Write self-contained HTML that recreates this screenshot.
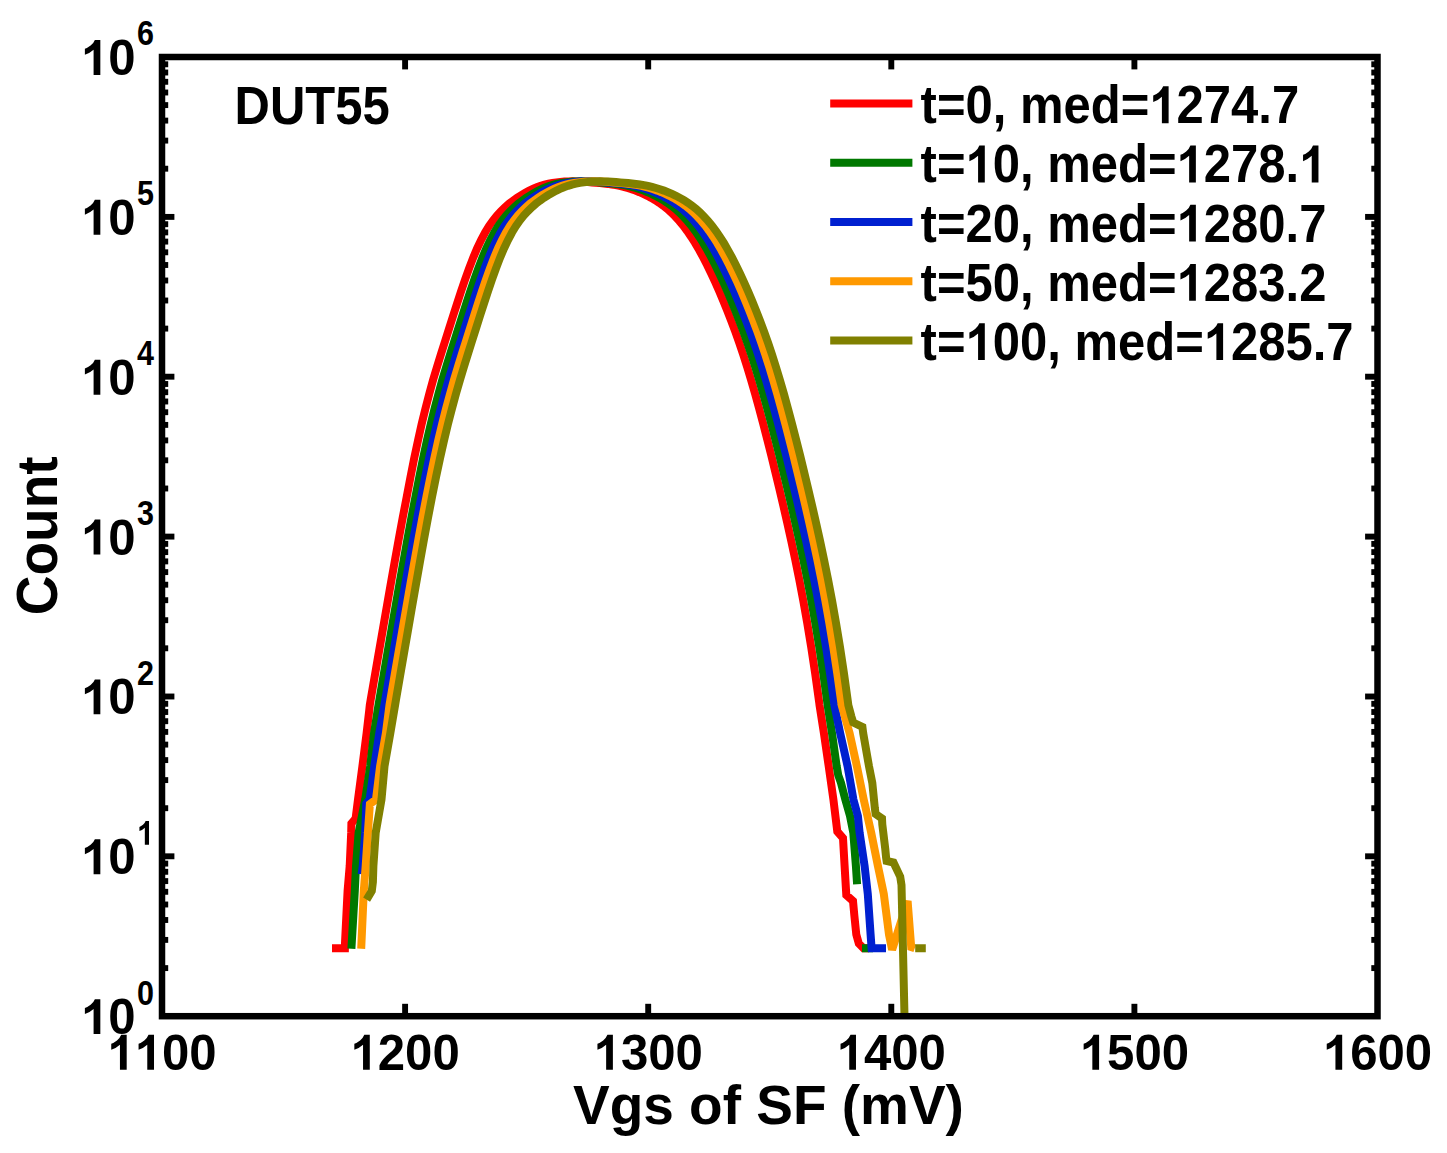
<!DOCTYPE html>
<html><head><meta charset="utf-8"><title>DUT55 Vgs histogram</title>
<style>html,body{margin:0;padding:0;background:#fff;}svg{display:block;}body{font-family:"Liberation Sans",sans-serif;}</style></head>
<body>
<svg width="1447" height="1153" viewBox="0 0 1447 1153">
<rect x="0" y="0" width="1447" height="1153" fill="#ffffff"/>
<clipPath id="ax"><rect x="162.0" y="57.0" width="1215.5" height="959.2"/></clipPath>
<g clip-path="url(#ax)" fill="none" stroke-linejoin="miter" stroke-miterlimit="3" stroke-linecap="butt">
<path d="M332.0,948.3 L344.9,948.3 L345.0,943.0 L347.6,890.7 L349.7,865.9 L351.2,832.7 L351.4,823.5 L355.6,818.5 L358.0,799.5 L362.4,766.3 L366.6,733.2 L369.2,710.7 L369.8,705.0 L370.7,699.6 L374.7,676.4 L378.7,653.3 L382.7,630.2 L386.7,607.1 L390.7,584.2 L394.7,561.6 L398.7,539.4 L402.7,517.8 L406.7,497.0 L410.5,477.1 L414.2,458.3 L418.0,440.5 L421.7,423.9 L425.5,408.4 L429.3,393.8 L433.1,379.9 L437.1,366.7 L441.1,353.8 L445.1,341.1 L449.1,328.5 L453.1,315.9 L457.1,303.5 L461.1,291.3 L465.1,279.5 L469.1,268.3 L473.1,257.9 L477.1,248.5 L481.1,240.0 L485.1,232.5 L489.1,226.0 L493.1,220.3 L497.1,215.3 L501.1,211.0 L505.1,207.2 L509.1,203.7 L513.1,200.6 L517.0,197.8 L520.9,195.3 L524.9,193.0 L528.8,190.8 L532.8,188.9 L536.7,187.2 L540.7,185.8 L544.6,184.6 L548.6,183.7 L552.5,182.9 L556.5,182.4 L560.4,181.9 L564.4,181.6 L568.3,181.4 L572.3,181.3 L576.2,181.4 L580.2,181.6 L584.1,181.8 L588.0,182.1 L592.0,182.4 L595.9,182.7 L599.9,183.1 L603.8,183.5 L607.8,183.9 L611.7,184.5 L615.7,185.1 L619.6,185.9 L623.6,186.9 L627.5,188.0 L631.5,189.2 L635.4,190.6 L639.4,192.2 L643.3,193.9 L647.3,195.8 L651.2,197.9 L655.2,200.2 L659.2,202.8 L663.2,205.7 L667.2,208.9 L671.2,212.5 L675.2,216.5 L679.2,220.9 L683.2,225.7 L687.2,231.1 L691.2,236.9 L695.2,243.2 L699.2,250.1 L703.2,257.4 L707.2,265.2 L711.2,273.5 L715.2,282.1 L719.2,291.2 L723.2,300.6 L727.2,310.5 L731.2,320.7 L735.2,331.4 L739.2,342.7 L743.2,354.6 L747.2,367.1 L751.2,380.3 L755.2,394.2 L759.2,408.7 L763.2,423.7 L767.2,439.2 L771.2,455.1 L775.2,471.5 L779.2,488.1 L783.2,505.1 L787.2,522.6 L791.2,540.7 L795.2,559.5 L799.2,579.3 L803.2,600.3 L807.2,622.9 L811.2,647.2 L815.2,673.7 L819.2,702.4 L819.5,705.0 L823.9,733.2 L828.7,766.3 L833.4,799.5 L837.3,831.5 L843.0,838.0 L844.6,865.9 L846.3,895.0 L853.0,901.0 L854.4,916.0 L856.3,934.6 L858.8,943.5 L863.5,948.3 L869.0,948.3" stroke="#ff0000" stroke-width="8.0"/>
<path d="M351.4,948.8 L354.8,890.7 L356.0,865.9 L358.6,832.7 L365.2,799.5 L370.2,766.3 L374.0,733.2 L378.5,705.0 L379.4,699.6 L383.4,676.4 L387.4,653.3 L391.4,630.2 L395.4,607.1 L399.4,584.2 L403.4,561.6 L407.4,539.4 L411.4,517.8 L415.4,497.0 L419.3,477.1 L423.1,458.3 L426.9,440.5 L430.8,423.9 L434.6,408.4 L438.5,393.8 L442.3,379.9 L446.3,366.7 L450.3,353.8 L454.3,341.1 L458.3,328.5 L462.3,315.9 L466.3,303.5 L470.3,291.3 L474.3,279.5 L478.3,268.3 L482.3,257.9 L486.3,248.5 L490.3,240.0 L494.3,232.5 L498.3,226.0 L502.3,220.3 L506.3,215.3 L510.3,211.0 L514.3,207.2 L518.3,203.7 L522.3,200.6 L526.2,197.8 L530.1,195.3 L534.1,193.0 L538.0,190.8 L541.9,188.9 L545.8,187.2 L549.7,185.8 L553.6,184.6 L557.5,183.7 L561.5,182.9 L565.4,182.4 L569.3,181.9 L573.2,181.6 L577.1,181.4 L581.0,181.3 L584.9,181.4 L588.9,181.6 L592.8,181.8 L596.7,182.1 L600.6,182.4 L604.5,182.7 L608.4,183.1 L612.3,183.5 L616.2,183.9 L620.2,184.5 L624.1,185.1 L628.0,185.9 L631.9,186.9 L635.8,188.0 L639.7,189.2 L643.6,190.6 L647.6,192.2 L651.5,193.9 L655.4,195.8 L659.3,197.9 L663.3,200.2 L667.3,202.8 L671.3,205.7 L675.3,208.9 L679.3,212.5 L683.3,216.5 L687.3,220.9 L691.3,225.7 L695.3,231.1 L699.3,236.9 L703.3,243.2 L707.3,250.1 L711.3,257.4 L715.3,265.2 L719.3,273.5 L723.3,282.1 L727.3,291.2 L731.3,300.6 L735.3,310.5 L739.3,320.7 L743.3,331.4 L747.3,342.7 L751.3,354.6 L755.3,367.1 L759.3,380.3 L763.3,394.2 L767.3,408.7 L771.3,423.7 L775.3,439.2 L779.3,455.1 L783.3,471.5 L787.3,488.1 L791.3,505.1 L795.3,522.6 L799.3,540.7 L803.3,559.5 L807.3,579.3 L811.3,600.3 L815.3,622.9 L819.3,647.2 L823.3,673.7 L827.3,702.4 L827.6,705.0 L832.0,733.2 L836.7,766.3 L838.2,775.0 L841.0,782.9 L845.3,799.5 L850.0,816.0 L853.3,832.7 L855.9,865.9 L857.1,884.2" stroke="#007800" stroke-width="8.0"/>
<path d="M862.0,948.3 L873.0,948.3" stroke="#007800" stroke-width="8.0"/>
<path d="M361.6,874.2 L362.8,865.9 L365.2,832.7 L366.3,803.5 L369.6,799.5 L374.3,766.3 L379.3,733.2 L384.4,705.0 L385.3,699.6 L389.3,676.4 L393.3,653.3 L397.3,630.2 L401.3,607.1 L405.3,584.2 L409.3,561.6 L413.3,539.4 L417.3,517.8 L421.3,497.0 L425.2,477.1 L429.1,458.3 L433.0,440.5 L436.9,423.9 L440.8,408.4 L444.7,393.8 L448.6,379.9 L452.6,366.7 L456.6,353.8 L460.6,341.1 L464.6,328.5 L468.6,315.9 L472.6,303.5 L476.6,291.3 L480.6,279.5 L484.6,268.3 L488.6,257.9 L492.6,248.5 L496.6,240.0 L500.6,232.5 L504.6,226.0 L508.6,220.3 L512.6,215.3 L516.6,211.0 L520.6,207.2 L524.6,203.7 L528.6,200.6 L532.5,197.8 L536.5,195.3 L540.4,193.0 L544.3,190.8 L548.2,188.9 L552.2,187.2 L556.1,185.8 L560.0,184.6 L564.0,183.7 L567.9,182.9 L571.8,182.4 L575.7,181.9 L579.7,181.6 L583.6,181.4 L587.5,181.3 L591.5,181.4 L595.4,181.6 L599.3,181.8 L603.2,182.1 L607.2,182.4 L611.1,182.7 L615.0,183.1 L619.0,183.5 L622.9,183.9 L626.8,184.5 L630.7,185.1 L634.7,185.9 L638.6,186.9 L642.5,188.0 L646.5,189.2 L650.4,190.6 L654.3,192.2 L658.2,193.9 L662.2,195.8 L666.1,197.9 L670.1,200.2 L674.1,202.8 L678.1,205.7 L682.1,208.9 L686.1,212.5 L690.1,216.5 L694.1,220.9 L698.1,225.7 L702.1,231.1 L706.1,236.9 L710.1,243.2 L714.1,250.1 L718.1,257.4 L722.1,265.2 L726.1,273.5 L730.1,282.1 L734.1,291.2 L738.1,300.6 L742.1,310.5 L746.1,320.7 L750.1,331.4 L754.1,342.7 L758.1,354.6 L762.1,367.1 L766.1,380.3 L770.1,394.2 L774.1,408.7 L778.1,423.7 L782.1,439.2 L786.1,455.1 L790.1,471.5 L794.1,488.1 L798.1,505.1 L802.1,522.6 L806.1,540.7 L810.1,559.5 L814.1,579.3 L818.1,600.3 L822.1,622.9 L826.1,647.2 L830.1,673.7 L834.1,702.4 L834.4,705.0 L840.2,733.2 L847.6,766.3 L853.4,799.5 L857.9,816.1 L859.6,832.7 L864.6,865.9 L867.8,894.0 L870.6,934.6 L871.6,948.3 L886.0,948.3" stroke="#0020d0" stroke-width="8.0"/>
<path d="M361.2,948.8 L363.8,890.7 L365.7,865.9 L367.9,832.7 L369.9,804.0 L376.0,799.5 L380.1,766.3 L385.9,733.2 L389.5,705.0 L390.4,699.6 L394.4,676.4 L398.4,653.3 L402.4,630.2 L406.4,607.1 L410.4,584.2 L414.4,561.6 L418.4,539.4 L422.4,517.8 L426.4,497.0 L430.4,477.1 L434.3,458.3 L438.2,440.5 L442.2,423.9 L446.1,408.4 L450.1,393.8 L454.0,379.9 L458.0,366.7 L462.0,353.8 L466.0,341.1 L470.0,328.5 L474.0,315.9 L478.0,303.5 L482.0,291.3 L486.0,279.5 L490.0,268.3 L494.0,257.9 L498.0,248.5 L502.0,240.0 L506.0,232.5 L510.0,226.0 L514.0,220.3 L518.0,215.3 L522.0,211.0 L526.0,207.2 L530.0,203.7 L534.0,200.6 L538.0,197.8 L542.0,195.3 L546.0,193.0 L550.0,190.8 L553.9,188.9 L557.9,187.2 L561.9,185.8 L565.9,184.6 L569.8,183.7 L573.8,182.9 L577.8,182.4 L581.8,181.9 L585.8,181.6 L589.7,181.4 L593.7,181.3 L597.7,181.4 L601.7,181.6 L605.7,181.8 L609.6,182.1 L613.6,182.4 L617.6,182.7 L621.6,183.1 L625.6,183.5 L629.5,183.9 L633.5,184.5 L637.5,185.1 L641.5,185.9 L645.4,186.9 L649.4,188.0 L653.4,189.2 L657.4,190.6 L661.4,192.2 L665.3,193.9 L669.3,195.8 L673.3,197.9 L677.3,200.2 L681.3,202.8 L685.3,205.7 L689.3,208.9 L693.3,212.5 L697.3,216.5 L701.3,220.9 L705.3,225.7 L709.3,231.1 L713.3,236.9 L717.3,243.2 L721.3,250.1 L725.3,257.4 L729.3,265.2 L733.3,273.5 L737.3,282.1 L741.3,291.2 L745.3,300.6 L749.3,310.5 L753.3,320.7 L757.3,331.4 L761.3,342.7 L765.3,354.6 L769.3,367.1 L773.3,380.3 L777.3,394.2 L781.3,408.7 L785.3,423.7 L789.3,439.2 L793.3,455.1 L797.3,471.5 L801.3,488.1 L805.3,505.1 L809.3,522.6 L813.3,540.7 L817.3,559.5 L821.3,579.3 L825.3,600.3 L829.3,622.9 L833.3,647.2 L837.3,673.7 L841.3,702.4 L841.6,705.0 L849.6,733.2 L856.9,766.3 L863.7,799.5 L871.2,832.7 L877.9,865.9 L883.8,894.0 L889.0,934.6 L892.1,949.8 L907.6,901.0 L911.2,947.0 L914.8,948.3" stroke="#ff9900" stroke-width="8.0"/>
<path d="M366.6,899.6 L371.8,891.0 L372.9,882.0 L373.4,865.9 L375.7,832.7 L381.5,799.5 L384.5,766.3 L390.3,733.2 L395.1,705.0 L396.0,699.6 L400.0,676.4 L404.0,653.3 L408.0,630.2 L412.0,607.1 L416.0,584.2 L420.0,561.6 L424.0,539.4 L428.0,517.8 L432.0,497.0 L436.0,477.1 L440.0,458.3 L444.0,440.5 L448.0,423.9 L452.0,408.4 L456.0,393.8 L460.0,379.9 L464.0,366.7 L468.0,353.8 L472.0,341.1 L476.0,328.5 L480.0,315.9 L484.0,303.5 L488.0,291.3 L492.0,279.5 L496.0,268.3 L500.0,257.9 L504.0,248.5 L508.0,240.0 L512.0,232.5 L516.0,226.0 L520.0,220.3 L524.0,215.3 L528.0,211.0 L532.0,207.2 L536.0,203.7 L540.0,200.6 L544.0,197.8 L548.0,195.3 L552.0,193.0 L556.0,190.8 L560.0,188.9 L564.0,187.2 L568.0,185.8 L572.0,184.6 L576.0,183.7 L580.0,182.9 L584.0,182.4 L588.0,181.9 L592.0,181.6 L596.0,181.4 L600.0,181.3 L604.0,181.4 L608.0,181.6 L612.0,181.8 L616.0,182.1 L620.0,182.4 L624.0,182.7 L628.0,183.1 L632.0,183.5 L636.0,183.9 L640.0,184.5 L644.0,185.1 L648.0,185.9 L652.0,186.9 L656.0,188.0 L660.0,189.2 L664.0,190.6 L668.0,192.2 L672.0,193.9 L676.0,195.8 L680.0,197.9 L684.0,200.2 L688.0,202.8 L692.0,205.7 L696.0,208.9 L700.0,212.5 L704.0,216.5 L708.0,220.9 L712.0,225.7 L716.0,231.1 L720.0,236.9 L724.0,243.2 L728.0,250.1 L732.0,257.4 L736.0,265.2 L740.0,273.5 L744.0,282.1 L748.0,291.2 L752.0,300.6 L756.0,310.5 L760.0,320.7 L764.0,331.4 L768.0,342.7 L772.0,354.6 L776.0,367.1 L780.0,380.3 L784.0,394.2 L788.0,408.7 L792.0,423.7 L796.0,439.2 L800.0,455.1 L804.0,471.5 L808.0,488.1 L812.0,505.1 L816.0,522.6 L820.0,540.7 L824.0,559.5 L828.0,579.3 L832.0,600.3 L836.0,622.9 L840.0,647.2 L844.0,673.7 L848.0,702.4 L848.3,705.0 L851.4,716.6 L853.2,722.5 L862.4,727.0 L863.2,733.2 L869.0,766.3 L872.3,782.9 L874.8,807.8 L875.6,814.0 L882.0,818.5 L882.3,824.4 L885.3,849.3 L886.1,857.6 L886.6,861.0 L893.5,862.5 L900.2,876.6 L901.5,885.0 L904.5,1016.2" stroke="#808000" stroke-width="8.0"/>
<path d="M915.2,948.3 L925.8,948.3" stroke="#808000" stroke-width="8.0"/>
</g>
<g stroke="#000" stroke-width="5.9" stroke-linecap="butt">
<line x1="162.0" y1="968.1" x2="168.2" y2="968.1"/>
<line x1="1377.5" y1="968.1" x2="1371.3" y2="968.1"/>
<line x1="162.0" y1="939.9" x2="168.2" y2="939.9"/>
<line x1="1377.5" y1="939.9" x2="1371.3" y2="939.9"/>
<line x1="162.0" y1="920.0" x2="168.2" y2="920.0"/>
<line x1="1377.5" y1="920.0" x2="1371.3" y2="920.0"/>
<line x1="162.0" y1="904.5" x2="168.2" y2="904.5"/>
<line x1="1377.5" y1="904.5" x2="1371.3" y2="904.5"/>
<line x1="162.0" y1="891.8" x2="168.2" y2="891.8"/>
<line x1="1377.5" y1="891.8" x2="1371.3" y2="891.8"/>
<line x1="162.0" y1="881.1" x2="168.2" y2="881.1"/>
<line x1="1377.5" y1="881.1" x2="1371.3" y2="881.1"/>
<line x1="162.0" y1="871.8" x2="168.2" y2="871.8"/>
<line x1="1377.5" y1="871.8" x2="1371.3" y2="871.8"/>
<line x1="162.0" y1="863.6" x2="168.2" y2="863.6"/>
<line x1="1377.5" y1="863.6" x2="1371.3" y2="863.6"/>
<line x1="162.0" y1="856.3" x2="174.4" y2="856.3"/>
<line x1="1377.5" y1="856.3" x2="1365.1" y2="856.3"/>
<line x1="162.0" y1="808.2" x2="168.2" y2="808.2"/>
<line x1="1377.5" y1="808.2" x2="1371.3" y2="808.2"/>
<line x1="162.0" y1="780.1" x2="168.2" y2="780.1"/>
<line x1="1377.5" y1="780.1" x2="1371.3" y2="780.1"/>
<line x1="162.0" y1="760.1" x2="168.2" y2="760.1"/>
<line x1="1377.5" y1="760.1" x2="1371.3" y2="760.1"/>
<line x1="162.0" y1="744.6" x2="168.2" y2="744.6"/>
<line x1="1377.5" y1="744.6" x2="1371.3" y2="744.6"/>
<line x1="162.0" y1="731.9" x2="168.2" y2="731.9"/>
<line x1="1377.5" y1="731.9" x2="1371.3" y2="731.9"/>
<line x1="162.0" y1="721.2" x2="168.2" y2="721.2"/>
<line x1="1377.5" y1="721.2" x2="1371.3" y2="721.2"/>
<line x1="162.0" y1="712.0" x2="168.2" y2="712.0"/>
<line x1="1377.5" y1="712.0" x2="1371.3" y2="712.0"/>
<line x1="162.0" y1="703.8" x2="168.2" y2="703.8"/>
<line x1="1377.5" y1="703.8" x2="1371.3" y2="703.8"/>
<line x1="162.0" y1="696.5" x2="174.4" y2="696.5"/>
<line x1="1377.5" y1="696.5" x2="1365.1" y2="696.5"/>
<line x1="162.0" y1="648.3" x2="168.2" y2="648.3"/>
<line x1="1377.5" y1="648.3" x2="1371.3" y2="648.3"/>
<line x1="162.0" y1="620.2" x2="168.2" y2="620.2"/>
<line x1="1377.5" y1="620.2" x2="1371.3" y2="620.2"/>
<line x1="162.0" y1="600.2" x2="168.2" y2="600.2"/>
<line x1="1377.5" y1="600.2" x2="1371.3" y2="600.2"/>
<line x1="162.0" y1="584.7" x2="168.2" y2="584.7"/>
<line x1="1377.5" y1="584.7" x2="1371.3" y2="584.7"/>
<line x1="162.0" y1="572.1" x2="168.2" y2="572.1"/>
<line x1="1377.5" y1="572.1" x2="1371.3" y2="572.1"/>
<line x1="162.0" y1="561.4" x2="168.2" y2="561.4"/>
<line x1="1377.5" y1="561.4" x2="1371.3" y2="561.4"/>
<line x1="162.0" y1="552.1" x2="168.2" y2="552.1"/>
<line x1="1377.5" y1="552.1" x2="1371.3" y2="552.1"/>
<line x1="162.0" y1="543.9" x2="168.2" y2="543.9"/>
<line x1="1377.5" y1="543.9" x2="1371.3" y2="543.9"/>
<line x1="162.0" y1="536.6" x2="174.4" y2="536.6"/>
<line x1="1377.5" y1="536.6" x2="1365.1" y2="536.6"/>
<line x1="162.0" y1="488.5" x2="168.2" y2="488.5"/>
<line x1="1377.5" y1="488.5" x2="1371.3" y2="488.5"/>
<line x1="162.0" y1="460.3" x2="168.2" y2="460.3"/>
<line x1="1377.5" y1="460.3" x2="1371.3" y2="460.3"/>
<line x1="162.0" y1="440.4" x2="168.2" y2="440.4"/>
<line x1="1377.5" y1="440.4" x2="1371.3" y2="440.4"/>
<line x1="162.0" y1="424.9" x2="168.2" y2="424.9"/>
<line x1="1377.5" y1="424.9" x2="1371.3" y2="424.9"/>
<line x1="162.0" y1="412.2" x2="168.2" y2="412.2"/>
<line x1="1377.5" y1="412.2" x2="1371.3" y2="412.2"/>
<line x1="162.0" y1="401.5" x2="168.2" y2="401.5"/>
<line x1="1377.5" y1="401.5" x2="1371.3" y2="401.5"/>
<line x1="162.0" y1="392.2" x2="168.2" y2="392.2"/>
<line x1="1377.5" y1="392.2" x2="1371.3" y2="392.2"/>
<line x1="162.0" y1="384.0" x2="168.2" y2="384.0"/>
<line x1="1377.5" y1="384.0" x2="1371.3" y2="384.0"/>
<line x1="162.0" y1="376.7" x2="174.4" y2="376.7"/>
<line x1="1377.5" y1="376.7" x2="1365.1" y2="376.7"/>
<line x1="162.0" y1="328.6" x2="168.2" y2="328.6"/>
<line x1="1377.5" y1="328.6" x2="1371.3" y2="328.6"/>
<line x1="162.0" y1="300.5" x2="168.2" y2="300.5"/>
<line x1="1377.5" y1="300.5" x2="1371.3" y2="300.5"/>
<line x1="162.0" y1="280.5" x2="168.2" y2="280.5"/>
<line x1="1377.5" y1="280.5" x2="1371.3" y2="280.5"/>
<line x1="162.0" y1="265.0" x2="168.2" y2="265.0"/>
<line x1="1377.5" y1="265.0" x2="1371.3" y2="265.0"/>
<line x1="162.0" y1="252.3" x2="168.2" y2="252.3"/>
<line x1="1377.5" y1="252.3" x2="1371.3" y2="252.3"/>
<line x1="162.0" y1="241.6" x2="168.2" y2="241.6"/>
<line x1="1377.5" y1="241.6" x2="1371.3" y2="241.6"/>
<line x1="162.0" y1="232.4" x2="168.2" y2="232.4"/>
<line x1="1377.5" y1="232.4" x2="1371.3" y2="232.4"/>
<line x1="162.0" y1="224.2" x2="168.2" y2="224.2"/>
<line x1="1377.5" y1="224.2" x2="1371.3" y2="224.2"/>
<line x1="162.0" y1="216.9" x2="174.4" y2="216.9"/>
<line x1="1377.5" y1="216.9" x2="1365.1" y2="216.9"/>
<line x1="162.0" y1="168.7" x2="168.2" y2="168.7"/>
<line x1="1377.5" y1="168.7" x2="1371.3" y2="168.7"/>
<line x1="162.0" y1="140.6" x2="168.2" y2="140.6"/>
<line x1="1377.5" y1="140.6" x2="1371.3" y2="140.6"/>
<line x1="162.0" y1="120.6" x2="168.2" y2="120.6"/>
<line x1="1377.5" y1="120.6" x2="1371.3" y2="120.6"/>
<line x1="162.0" y1="105.1" x2="168.2" y2="105.1"/>
<line x1="1377.5" y1="105.1" x2="1371.3" y2="105.1"/>
<line x1="162.0" y1="92.5" x2="168.2" y2="92.5"/>
<line x1="1377.5" y1="92.5" x2="1371.3" y2="92.5"/>
<line x1="162.0" y1="81.8" x2="168.2" y2="81.8"/>
<line x1="1377.5" y1="81.8" x2="1371.3" y2="81.8"/>
<line x1="162.0" y1="72.5" x2="168.2" y2="72.5"/>
<line x1="1377.5" y1="72.5" x2="1371.3" y2="72.5"/>
<line x1="162.0" y1="64.3" x2="168.2" y2="64.3"/>
<line x1="1377.5" y1="64.3" x2="1371.3" y2="64.3"/>
<line x1="405.1" y1="1016.2" x2="405.1" y2="1003.8"/>
<line x1="405.1" y1="57.0" x2="405.1" y2="69.4"/>
<line x1="648.2" y1="1016.2" x2="648.2" y2="1003.8"/>
<line x1="648.2" y1="57.0" x2="648.2" y2="69.4"/>
<line x1="891.3" y1="1016.2" x2="891.3" y2="1003.8"/>
<line x1="891.3" y1="57.0" x2="891.3" y2="69.4"/>
<line x1="1134.4" y1="1016.2" x2="1134.4" y2="1003.8"/>
<line x1="1134.4" y1="57.0" x2="1134.4" y2="69.4"/>
</g>
<rect x="162.0" y="57.0" width="1215.5" height="959.2" fill="none" stroke="#000" stroke-width="6.5" stroke-linejoin="miter"/>
<g font-family="Liberation Sans, sans-serif" font-weight="bold" fill="#000" style="font-kerning:none">
<g transform="translate(81.00,1034.10) scale(0.967,1)">
<path transform="translate(0.00,0) scale(0.02480,-0.02480)" d="M806 0H525V1014Q371 876 162 810V1054Q272 1088 401 1185T578 1409H806Z"/>
<text x="28.25" y="0" font-size="50.8" xml:space="preserve">0</text>
</g>
<g transform="translate(137.00,1004.50) scale(0.89,1)">
<text x="0.00" y="0" font-size="34.3" xml:space="preserve">0</text>
</g>
<g transform="translate(81.00,874.23) scale(0.967,1)">
<path transform="translate(0.00,0) scale(0.02480,-0.02480)" d="M806 0H525V1014Q371 876 162 810V1054Q272 1088 401 1185T578 1409H806Z"/>
<text x="28.25" y="0" font-size="50.8" xml:space="preserve">0</text>
</g>
<g transform="translate(137.00,844.63) scale(0.89,1)">
<path transform="translate(0.00,0) scale(0.01675,-0.01675)" d="M806 0H525V1014Q371 876 162 810V1054Q272 1088 401 1185T578 1409H806Z"/>
</g>
<g transform="translate(81.00,714.37) scale(0.967,1)">
<path transform="translate(0.00,0) scale(0.02480,-0.02480)" d="M806 0H525V1014Q371 876 162 810V1054Q272 1088 401 1185T578 1409H806Z"/>
<text x="28.25" y="0" font-size="50.8" xml:space="preserve">0</text>
</g>
<g transform="translate(137.00,684.77) scale(0.89,1)">
<text x="0.00" y="0" font-size="34.3" xml:space="preserve">2</text>
</g>
<g transform="translate(81.00,554.50) scale(0.967,1)">
<path transform="translate(0.00,0) scale(0.02480,-0.02480)" d="M806 0H525V1014Q371 876 162 810V1054Q272 1088 401 1185T578 1409H806Z"/>
<text x="28.25" y="0" font-size="50.8" xml:space="preserve">0</text>
</g>
<g transform="translate(137.00,524.90) scale(0.89,1)">
<text x="0.00" y="0" font-size="34.3" xml:space="preserve">3</text>
</g>
<g transform="translate(81.00,394.63) scale(0.967,1)">
<path transform="translate(0.00,0) scale(0.02480,-0.02480)" d="M806 0H525V1014Q371 876 162 810V1054Q272 1088 401 1185T578 1409H806Z"/>
<text x="28.25" y="0" font-size="50.8" xml:space="preserve">0</text>
</g>
<g transform="translate(137.00,365.03) scale(0.89,1)">
<text x="0.00" y="0" font-size="34.3" xml:space="preserve">4</text>
</g>
<g transform="translate(81.00,234.77) scale(0.967,1)">
<path transform="translate(0.00,0) scale(0.02480,-0.02480)" d="M806 0H525V1014Q371 876 162 810V1054Q272 1088 401 1185T578 1409H806Z"/>
<text x="28.25" y="0" font-size="50.8" xml:space="preserve">0</text>
</g>
<g transform="translate(137.00,205.17) scale(0.89,1)">
<text x="0.00" y="0" font-size="34.3" xml:space="preserve">5</text>
</g>
<g transform="translate(81.00,74.90) scale(0.967,1)">
<path transform="translate(0.00,0) scale(0.02480,-0.02480)" d="M806 0H525V1014Q371 876 162 810V1054Q272 1088 401 1185T578 1409H806Z"/>
<text x="28.25" y="0" font-size="50.8" xml:space="preserve">0</text>
</g>
<g transform="translate(137.00,45.30) scale(0.89,1)">
<text x="0.00" y="0" font-size="34.3" xml:space="preserve">6</text>
</g>
<g transform="translate(162.00,1069.80) scale(0.967,1)">
<path transform="translate(-56.51,0) scale(0.02480,-0.02480)" d="M806 0H525V1014Q371 876 162 810V1054Q272 1088 401 1185T578 1409H806Z"/>
<path transform="translate(-28.25,0) scale(0.02480,-0.02480)" d="M806 0H525V1014Q371 876 162 810V1054Q272 1088 401 1185T578 1409H806Z"/>
<text x="0.00" y="0" font-size="50.8" xml:space="preserve">00</text>
</g>
<g transform="translate(405.10,1069.80) scale(0.967,1)">
<path transform="translate(-56.51,0) scale(0.02480,-0.02480)" d="M806 0H525V1014Q371 876 162 810V1054Q272 1088 401 1185T578 1409H806Z"/>
<text x="-28.25" y="0" font-size="50.8" xml:space="preserve">200</text>
</g>
<g transform="translate(648.20,1069.80) scale(0.967,1)">
<path transform="translate(-56.51,0) scale(0.02480,-0.02480)" d="M806 0H525V1014Q371 876 162 810V1054Q272 1088 401 1185T578 1409H806Z"/>
<text x="-28.25" y="0" font-size="50.8" xml:space="preserve">300</text>
</g>
<g transform="translate(891.30,1069.80) scale(0.967,1)">
<path transform="translate(-56.51,0) scale(0.02480,-0.02480)" d="M806 0H525V1014Q371 876 162 810V1054Q272 1088 401 1185T578 1409H806Z"/>
<text x="-28.25" y="0" font-size="50.8" xml:space="preserve">400</text>
</g>
<g transform="translate(1134.40,1069.80) scale(0.967,1)">
<path transform="translate(-56.51,0) scale(0.02480,-0.02480)" d="M806 0H525V1014Q371 876 162 810V1054Q272 1088 401 1185T578 1409H806Z"/>
<text x="-28.25" y="0" font-size="50.8" xml:space="preserve">500</text>
</g>
<g transform="translate(1377.50,1069.80) scale(0.967,1)">
<path transform="translate(-56.51,0) scale(0.02480,-0.02480)" d="M806 0H525V1014Q371 876 162 810V1054Q272 1088 401 1185T578 1409H806Z"/>
<text x="-28.25" y="0" font-size="50.8" xml:space="preserve">600</text>
</g>
<g transform="translate(768.50,1123.60) scale(0.996,1)">
<text x="-196.27" y="0" font-size="55.2" xml:space="preserve">Vgs of SF (mV)</text>
</g>
<g transform="translate(56.80,535.80) rotate(-90) scale(0.973,1)">
<text x="-81.58" y="0" font-size="56.5" xml:space="preserve">Count</text>
</g>
<g transform="translate(234.60,123.60) scale(0.9,1)">
<text x="0.00" y="0" font-size="54.4" xml:space="preserve">DUT55</text>
</g>
<line x1="830.2" y1="103.6" x2="912.4" y2="103.6" stroke="#ff0000" stroke-width="8.0"/>
<g transform="translate(920.60,123.20) scale(0.914,1)">
<text x="0.00" y="0" font-size="53.6" xml:space="preserve">t=0, med=</text>
<path transform="translate(250.26,0) scale(0.02617,-0.02617)" d="M806 0H525V1014Q371 876 162 810V1054Q272 1088 401 1185T578 1409H806Z"/>
<text x="280.07" y="0" font-size="53.6" xml:space="preserve">274.7</text>
</g>
<line x1="830.2" y1="162.8" x2="912.4" y2="162.8" stroke="#007800" stroke-width="8.0"/>
<g transform="translate(920.60,182.40) scale(0.914,1)">
<text x="0.00" y="0" font-size="53.6" xml:space="preserve">t=</text>
<path transform="translate(49.15,0) scale(0.02617,-0.02617)" d="M806 0H525V1014Q371 876 162 810V1054Q272 1088 401 1185T578 1409H806Z"/>
<text x="78.96" y="0" font-size="53.6" xml:space="preserve">0, med=</text>
<path transform="translate(280.07,0) scale(0.02617,-0.02617)" d="M806 0H525V1014Q371 876 162 810V1054Q272 1088 401 1185T578 1409H806Z"/>
<text x="309.88" y="0" font-size="53.6" xml:space="preserve">278.</text>
<path transform="translate(414.20,0) scale(0.02617,-0.02617)" d="M806 0H525V1014Q371 876 162 810V1054Q272 1088 401 1185T578 1409H806Z"/>
</g>
<line x1="830.2" y1="222.0" x2="912.4" y2="222.0" stroke="#0020d0" stroke-width="8.0"/>
<g transform="translate(920.60,241.60) scale(0.914,1)">
<text x="0.00" y="0" font-size="53.6" xml:space="preserve">t=20, med=</text>
<path transform="translate(280.07,0) scale(0.02617,-0.02617)" d="M806 0H525V1014Q371 876 162 810V1054Q272 1088 401 1185T578 1409H806Z"/>
<text x="309.88" y="0" font-size="53.6" xml:space="preserve">280.7</text>
</g>
<line x1="830.2" y1="281.2" x2="912.4" y2="281.2" stroke="#ff9900" stroke-width="8.0"/>
<g transform="translate(920.60,300.80) scale(0.914,1)">
<text x="0.00" y="0" font-size="53.6" xml:space="preserve">t=50, med=</text>
<path transform="translate(280.07,0) scale(0.02617,-0.02617)" d="M806 0H525V1014Q371 876 162 810V1054Q272 1088 401 1185T578 1409H806Z"/>
<text x="309.88" y="0" font-size="53.6" xml:space="preserve">283.2</text>
</g>
<line x1="830.2" y1="340.4" x2="912.4" y2="340.4" stroke="#808000" stroke-width="8.0"/>
<g transform="translate(920.60,360.00) scale(0.914,1)">
<text x="0.00" y="0" font-size="53.6" xml:space="preserve">t=</text>
<path transform="translate(49.15,0) scale(0.02617,-0.02617)" d="M806 0H525V1014Q371 876 162 810V1054Q272 1088 401 1185T578 1409H806Z"/>
<text x="78.96" y="0" font-size="53.6" xml:space="preserve">00, med=</text>
<path transform="translate(309.88,0) scale(0.02617,-0.02617)" d="M806 0H525V1014Q371 876 162 810V1054Q272 1088 401 1185T578 1409H806Z"/>
<text x="339.68" y="0" font-size="53.6" xml:space="preserve">285.7</text>
</g>
</g>
</svg>
</body></html>
